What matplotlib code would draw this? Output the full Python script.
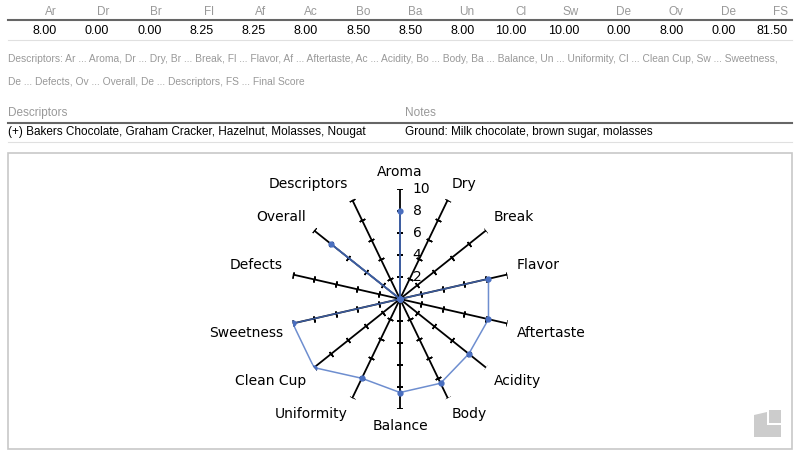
import numpy as np
import matplotlib.pyplot as plt
from matplotlib.lines import Line2D
from matplotlib.patches import Rectangle, Polygon

# score table
short_names = ["Ar", "Dr", "Br", "Fl", "Af", "Ac", "Bo", "Ba", "Un", "Cl", "Sw", "De", "Ov", "De", "FS"]
scores = [8.00, 0.00, 0.00, 8.25, 8.25, 8.00, 8.50, 8.50, 8.00, 10.00, 10.00, 0.00, 8.00, 0.00, 81.50]

legend_lines = [
    "Descriptors: Ar ... Aroma, Dr ... Dry, Br ... Break, Fl ... Flavor, Af ... Aftertaste, Ac ... Acidity, "
    "Bo ... Body, Ba ... Balance, Un ... Uniformity, Cl ... Clean Cup, Sw ... Sweetness,",
    "De ... Defects, Ov ... Overall, De ... Descriptors, FS ... Final Score",
]

descriptors = "(+) Bakers Chocolate, Graham Cracker, Hazelnut, Molasses, Nougat"
notes = "Ground: Milk chocolate, brown sugar, molasses"

# radar chart
categories = ["Aroma", "Dry", "Break", "Flavor", "Aftertaste", "Acidity", "Body", "Balance",
              "Uniformity", "Clean Cup", "Sweetness", "Defects", "Overall", "Descriptors"]
values = [8.00, 0.00, 0.00, 8.25, 8.25, 8.00, 8.50, 8.50, 8.00, 10.00, 10.00, 0.00, 8.00, 0.00]
rticks = [2, 4, 6, 8, 10]

W, H = 800, 457
fig = plt.figure(figsize=(W / 100, H / 100), dpi=100)

def fx(px):
    return px / W

def fy(py):
    return 1 - py / H

tfont = "Liberation Sans"
gray = "#999999"

# ---- top table ----
for i, (name, val) in enumerate(zip(short_names, scores)):
    xr = fx(57 + 52.2 * i)
    fig.text(xr, fy(12), name, ha="right", va="center", fontsize=8.5, color=gray, family=tfont)
    fig.text(xr, fy(31), f"{val:.2f}", ha="right", va="center", fontsize=9, color="black", family=tfont)
fig.add_artist(Line2D([fx(8), fx(792)], [fy(20), fy(20)], color="#666666", lw=1.5))
fig.add_artist(Line2D([fx(8), fx(792)], [fy(40), fy(40)], color="#e0e0e0", lw=0.8))

# ---- abbreviation legend ----
fig.text(fx(8), fy(59), legend_lines[0], ha="left", va="center", fontsize=7.35, color=gray, family=tfont)
fig.text(fx(8), fy(82), legend_lines[1], ha="left", va="center", fontsize=7.35, color=gray, family=tfont)

# ---- descriptors / notes table ----
fig.text(fx(8), fy(113), "Descriptors", ha="left", va="center", fontsize=8.5, color=gray, family=tfont)
fig.text(fx(405), fy(113), "Notes", ha="left", va="center", fontsize=8.5, color=gray, family=tfont)
fig.text(fx(8), fy(132), descriptors, ha="left", va="center", fontsize=8.5, color="black", family=tfont)
fig.text(fx(405), fy(132), notes, ha="left", va="center", fontsize=8.5, color="black", family=tfont)
fig.add_artist(Line2D([fx(8), fx(792)], [fy(123), fy(123)], color="#666666", lw=1.5))
fig.add_artist(Line2D([fx(8), fx(792)], [fy(142), fy(142)], color="#e0e0e0", lw=0.8))

# chart frame
fig.add_artist(Rectangle((fx(8), fy(449)), fx(784), 296 / H, fill=False, ec="#c8c8c8", lw=1.2))

# little grey logo bottom right
fig.add_artist(Polygon([(fx(754), fy(415)), (fx(767), fy(412)), (fx(767), fy(425)),
                        (fx(781), fy(425)), (fx(781), fy(437)), (fx(754), fy(437))],
                       closed=True, fc="#cccccc", ec="none"))
fig.add_artist(Rectangle((fx(769), fy(423)), fx(12), 13 / H, fc="#cccccc", ec="none"))

# ---- radar ----
cx, cy, R = 400, 299, 110
ax = fig.add_axes([fx(cx - R), fy(cy + R), fx(2 * R), 2 * R / H], projection="polar")
ax.set_theta_zero_location("N")
ax.set_theta_direction(-1)
ax.set_ylim(0, 10)
ax.axis("off")

n = len(categories)
theta = np.arange(n) * 2 * np.pi / n

for th in theta:
    ax.plot([th, th], [0, 10], color="black", lw=1.3, zorder=2)
    # small tick marks across each spoke
    ang = 90 - np.degrees(th)
    ax.plot([th] * len(rticks), rticks, ls="none", marker=(2, 2, ang), ms=4.4,
            mec="black", mew=1.1, zorder=2)

th_closed = np.append(theta, theta[0])
v_closed = np.append(values, values[0])
ax.plot(th_closed, v_closed, color="#4a72c4", alpha=0.8, lw=1.1, zorder=3)
ax.plot(theta, values, ls="none", marker="o", ms=3.5, color="#4a6fc0", zorder=4)

for th, name in zip(theta, categories):
    s, c = np.sin(th), np.cos(th)
    ha = "left" if s > 0.01 else ("right" if s < -0.01 else "center")
    va = "bottom" if c > 0.01 else ("top" if c < -0.01 else "center")
    ax.text(th, 10.9, name, ha=ha, va=va, fontsize=10, family="DejaVu Sans")

for v in rticks:
    ax.annotate(str(v), xy=(0, v), xytext=(9, 0), textcoords="offset points",
                ha="left", va="center", fontsize=10, family="DejaVu Sans")

fig.savefig("out.png", dpi=100)
